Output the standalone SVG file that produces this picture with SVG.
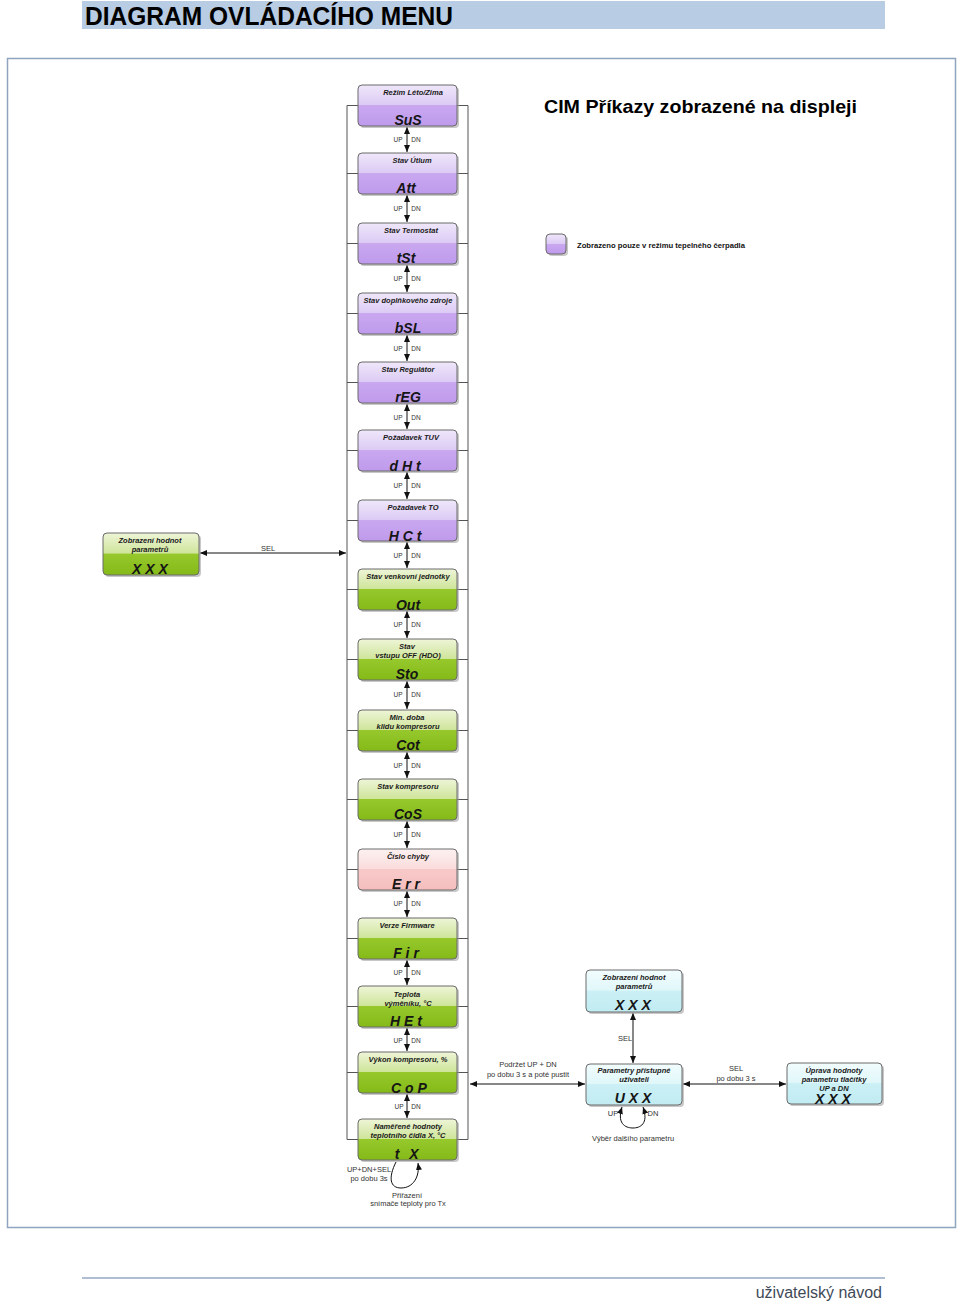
<svg xmlns="http://www.w3.org/2000/svg" width="960" height="1304" viewBox="0 0 960 1304">
<defs>
<linearGradient id="gPu" x1="0" y1="0" x2="0" y2="1">
<stop offset="0" stop-color="#efe7fa"/><stop offset="0.48" stop-color="#dccbf5"/><stop offset="0.5" stop-color="#c9a8f0"/><stop offset="1" stop-color="#bf9aec"/>
</linearGradient>
<linearGradient id="gGr" x1="0" y1="0" x2="0" y2="1">
<stop offset="0" stop-color="#eef5d8"/><stop offset="0.48" stop-color="#cfe59a"/><stop offset="0.5" stop-color="#96c82c"/><stop offset="1" stop-color="#84ba18"/>
</linearGradient>
<linearGradient id="gPk" x1="0" y1="0" x2="0" y2="1">
<stop offset="0" stop-color="#fdf1f1"/><stop offset="0.48" stop-color="#fadcdc"/><stop offset="0.5" stop-color="#f8c9c9"/><stop offset="1" stop-color="#f5bebe"/>
</linearGradient>
<linearGradient id="gCy" x1="0" y1="0" x2="0" y2="1">
<stop offset="0" stop-color="#f2fcfd"/><stop offset="0.48" stop-color="#e0f7fa"/><stop offset="0.5" stop-color="#cbf0f5"/><stop offset="1" stop-color="#c1ecf2"/>
</linearGradient>
<marker id="ah" viewBox="0 0 7 6" markerWidth="7" markerHeight="6" refX="7" refY="3" orient="auto-start-reverse" markerUnits="userSpaceOnUse">
<path d="M0,0 L7,3 L0,6 z" fill="#111"/>
</marker>
<style>
.sh{fill:#9a9a9a;opacity:0.55}
.box{stroke:#6b6b6b;stroke-width:1}
.pu{fill:url(#gPu)}
.gr{fill:url(#gGr)}
.pk{fill:url(#gPk)}
.cy{fill:url(#gCy)}
.lb{font-family:"Liberation Sans",Arial,sans-serif;font-size:7.5px;font-weight:bold;font-style:italic;fill:#1a1a1a;text-anchor:middle}
.big{font-family:"Liberation Sans",Arial,sans-serif;font-size:14px;font-weight:bold;font-style:italic;fill:#151515;text-anchor:middle}
.sm{font-family:"Liberation Sans",Arial,sans-serif;font-size:7.5px;fill:#333;text-anchor:middle}
.ud{font-family:"Liberation Sans",Arial,sans-serif;font-size:6.5px;fill:#333;text-anchor:middle}
.ln{stroke:#555;stroke-width:1;fill:none}
.ar{stroke:#111;stroke-width:1;fill:none;marker-start:url(#ah);marker-end:url(#ah)}
.ar1{stroke:#111;stroke-width:1;fill:none;marker-end:url(#ah)}
</style>
</defs>
<rect width="960" height="1304" fill="#fff"/>
<g id="header">
<rect x="82" y="1" width="803" height="28" fill="#b8cce4"/>
<text x="85" y="25" font-family="Liberation Sans,Arial,sans-serif" font-size="25" font-weight="bold" fill="#000" textLength="368" lengthAdjust="spacingAndGlyphs">DIAGRAM OVLÁDACÍHO MENU</text>
</g>
<rect id="frame" x="7.5" y="58.5" width="948" height="1169" fill="none" stroke="#8fa5bf" stroke-width="1.5"/>
<text id="title" x="544" y="113" font-family="Liberation Sans,Arial,sans-serif" font-size="19" font-weight="bold" fill="#000" textLength="313" lengthAdjust="spacingAndGlyphs">CIM Příkazy zobrazené na displeji</text>
<g id="legend">
<rect x="548" y="236" width="20" height="20" rx="4" class="sh"/>
<rect x="546" y="234" width="20" height="20" rx="4" class="box pu"/>
<text x="577" y="247.5" font-family="Liberation Sans,Arial,sans-serif" font-size="7.5" font-weight="bold" fill="#111" textLength="168" lengthAdjust="spacingAndGlyphs">Zobrazeno pouze v režimu tepelného čerpadla</text>
</g>

<g id="connectors">
<path class="ln" d="M347,105.5 V1139.5 M468,105.5 V1139.5"/>
<path class="ln" d="M347,105.5 H468 M347,173.5 H468 M347,243.5 H468 M347,313.5 H468 M347,382.5 H468 M347,450.5 H468 M347,520.5 H468 M347,589.5 H468 M347,659.5 H468 M347,730.5 H468 M347,799.5 H468 M347,869.5 H468 M347,938.5 H468 M347,1006.5 H468 M347,1072.5 H468 M347,1139.5 H468"/>
<line class="ar" x1="407" y1="127" x2="407" y2="152"/>
<line class="ar" x1="407" y1="195" x2="407" y2="222"/>
<line class="ar" x1="407" y1="265" x2="407" y2="292"/>
<line class="ar" x1="407" y1="335" x2="407" y2="361"/>
<line class="ar" x1="407" y1="404" x2="407" y2="429"/>
<line class="ar" x1="407" y1="472" x2="407" y2="499"/>
<line class="ar" x1="407" y1="542" x2="407" y2="568"/>
<line class="ar" x1="407" y1="611" x2="407" y2="638"/>
<line class="ar" x1="407" y1="681" x2="407" y2="709"/>
<line class="ar" x1="407" y1="752" x2="407" y2="778"/>
<line class="ar" x1="407" y1="821" x2="407" y2="848"/>
<line class="ar" x1="407" y1="891" x2="407" y2="917"/>
<line class="ar" x1="407" y1="960" x2="407" y2="985"/>
<line class="ar" x1="407" y1="1028" x2="407" y2="1051"/>
<line class="ar" x1="407" y1="1094" x2="407" y2="1118"/>
<g class="ud">
<text x="398" y="142">UP</text><text x="416" y="142">DN</text>
<text x="398" y="211">UP</text><text x="416" y="211">DN</text>
<text x="398" y="281">UP</text><text x="416" y="281">DN</text>
<text x="398" y="351">UP</text><text x="416" y="351">DN</text>
<text x="398" y="420">UP</text><text x="416" y="420">DN</text>
<text x="398" y="488">UP</text><text x="416" y="488">DN</text>
<text x="398" y="558">UP</text><text x="416" y="558">DN</text>
<text x="398" y="627">UP</text><text x="416" y="627">DN</text>
<text x="398" y="697">UP</text><text x="416" y="697">DN</text>
<text x="398" y="768">UP</text><text x="416" y="768">DN</text>
<text x="398" y="837">UP</text><text x="416" y="837">DN</text>
<text x="398" y="906">UP</text><text x="416" y="906">DN</text>
<text x="398" y="975">UP</text><text x="416" y="975">DN</text>
<text x="398" y="1043">UP</text><text x="416" y="1043">DN</text>
<text x="399" y="1109">UP</text><text x="416" y="1109">DN</text>
</g>
<line class="ar" x1="200" y1="553" x2="346" y2="553"/>
<text class="sm" x="268" y="550.5">SEL</text>
<path class="ar1" d="M396,1162 C388,1178 390,1188 401,1188 C413,1188 420,1177 418,1163"/>
<text class="sm" x="369" y="1171.5">UP+DN+SEL</text>
<text class="sm" x="369" y="1180.5">po dobu 3s</text>
<text class="sm" x="407" y="1197.5">Přiřazení</text>
<text class="sm" x="408" y="1206">snímače teploty pro Tx</text>
<line class="ar" x1="470" y1="1084" x2="585" y2="1084"/>
<text class="sm" x="528" y="1066.5">Podržet UP + DN</text>
<text class="sm" x="528" y="1076.5">po dobu 3 s a poté pustit</text>
<line class="ar" x1="633" y1="1013" x2="633" y2="1063"/>
<text class="sm" x="625" y="1041">SEL</text>
<line class="ar" x1="683" y1="1084" x2="786" y2="1084"/>
<text class="sm" x="736" y="1070.5">SEL</text>
<text class="sm" x="736" y="1080.5">po dobu 3 s</text>
<path class="ar" d="M622,1107 C616,1126 628,1128 633,1128 C640,1128 649,1124 643,1107"/>
<text class="sm" x="613" y="1115.5">UP</text>
<text class="sm" x="653" y="1115.5">DN</text>
<text class="sm" x="633" y="1140.5">Výběr dalšího parametru</text>
</g>

<g id="n-sus"><rect class="sh" x="360" y="87" width="99" height="41" rx="4"/><rect class="box pu" x="358" y="85" width="99" height="41" rx="4"/><text class="lb" x="413" y="94.5">Režim Léto/Zima</text><text class="big" x="408" y="125">SuS</text></g>
<g id="n-att"><rect class="sh" x="360" y="155" width="99" height="41" rx="4"/><rect class="box pu" x="358" y="153" width="99" height="41" rx="4"/><text class="lb" x="412" y="162.5">Stav Útlum</text><text class="big" x="406" y="193">Att</text></g>
<g id="n-tst"><rect class="sh" x="360" y="225" width="99" height="41" rx="4"/><rect class="box pu" x="358" y="223" width="99" height="41" rx="4"/><text class="lb" x="411" y="232.5">Stav Termostat</text><text class="big" x="406" y="263">tSt</text></g>
<g id="n-bsl"><rect class="sh" x="360" y="295" width="99" height="41" rx="4"/><rect class="box pu" x="358" y="293" width="99" height="41" rx="4"/><text class="lb" x="408" y="302.5">Stav doplňkového zdroje</text><text class="big" x="408" y="333">bSL</text></g>
<g id="n-reg"><rect class="sh" x="360" y="364" width="99" height="41" rx="4"/><rect class="box pu" x="358" y="362" width="99" height="41" rx="4"/><text class="lb" x="408" y="371.5">Stav Regulátor</text><text class="big" x="408" y="402">rEG</text></g>
<g id="n-dht"><rect class="sh" x="360" y="432" width="99" height="41" rx="4"/><rect class="box pu" x="358" y="430" width="99" height="41" rx="4"/><text class="lb" x="411" y="439.5">Požadavek TUV</text><text class="big" x="405" y="471">d H t</text></g>
<g id="n-hct"><rect class="sh" x="360" y="502" width="99" height="41" rx="4"/><rect class="box pu" x="358" y="500" width="99" height="41" rx="4"/><text class="lb" x="413" y="509.5">Požadavek TO</text><text class="big" x="405" y="541">H C t</text></g>
<g id="n-out"><rect class="sh" x="360" y="571" width="99" height="41" rx="4"/><rect class="box gr" x="358" y="569" width="99" height="41" rx="4"/><text class="lb" x="408" y="578.5">Stav venkovní jednotky</text><text class="big" x="408" y="610">Out</text></g>
<g id="n-sto"><rect class="sh" x="360" y="641" width="99" height="41" rx="4"/><rect class="box gr" x="358" y="639" width="99" height="41" rx="4"/><text class="lb" x="407" y="648.5">Stav</text><text class="lb" x="408" y="657.5">vstupu OFF (HDO)</text><text class="big" x="407" y="679">Sto</text></g>
<g id="n-cot"><rect class="sh" x="360" y="712" width="99" height="41" rx="4"/><rect class="box gr" x="358" y="710" width="99" height="41" rx="4"/><text class="lb" x="407" y="719.5">Min. doba</text><text class="lb" x="408" y="728.5">klidu kompresoru</text><text class="big" x="408" y="750">Cot</text></g>
<g id="n-cos"><rect class="sh" x="360" y="781" width="99" height="41" rx="4"/><rect class="box gr" x="358" y="779" width="99" height="41" rx="4"/><text class="lb" x="408" y="788.5">Stav kompresoru</text><text class="big" x="408" y="819">CoS</text></g>
<g id="n-err"><rect class="sh" x="360" y="851" width="99" height="41" rx="4"/><rect class="box pk" x="358" y="849" width="99" height="41" rx="4"/><text class="lb" x="408" y="858.5">Číslo chyby</text><text class="big" x="406" y="889">E r r</text></g>
<g id="n-fir"><rect class="sh" x="360" y="920" width="99" height="41" rx="4"/><rect class="box gr" x="358" y="918" width="99" height="41" rx="4"/><text class="lb" x="407" y="927.5">Verze Firmware</text><text class="big" x="406" y="958">F i r</text></g>
<g id="n-het"><rect class="sh" x="360" y="988" width="99" height="41" rx="4"/><rect class="box gr" x="358" y="986" width="99" height="41" rx="4"/><text class="lb" x="407" y="996.5">Teplota</text><text class="lb" x="408" y="1005.5">výměníku, °C</text><text class="big" x="406" y="1026">H E t</text></g>
<g id="n-cop"><rect class="sh" x="360" y="1054" width="99" height="41" rx="4"/><rect class="box gr" x="358" y="1052" width="99" height="41" rx="4"/><text class="lb" x="408" y="1061.5">Výkon kompresoru, %</text><text class="big" x="409" y="1093">C o P</text></g>
<g id="n-tx"><rect class="sh" x="360" y="1121" width="99" height="41" rx="4"/><rect class="box gr" x="358" y="1119" width="99" height="41" rx="4"/><text class="lb" x="408" y="1128.5">Naměřené hodnoty</text><text class="lb" x="408" y="1137.5">teplotního čidla X, °C</text><text class="big" y="1159"><tspan x="397">t</tspan><tspan x="414">X</tspan></text></g>

<g id="n-left-xxx"><rect class="sh" x="105" y="535" width="96" height="42" rx="4"/><rect class="box gr" x="103" y="533" width="96" height="42" rx="4"/><text class="lb" x="150" y="542.5">Zobrazení hodnot</text><text class="lb" x="150" y="551.5">parametrů</text><text class="big" x="150" y="574">X X X</text></g>
<g id="n-zobr"><rect class="sh" x="588" y="972" width="96" height="42" rx="4"/><rect class="box cy" x="586" y="970" width="96" height="42" rx="4"/><text class="lb" x="634" y="979.5">Zobrazení hodnot</text><text class="lb" x="634" y="988.5">parametrů</text><text class="big" x="633" y="1010">X X X</text></g>
<g id="n-uxx"><rect class="sh" x="588" y="1066" width="96" height="41" rx="4"/><rect class="box cy" x="586" y="1064" width="96" height="41" rx="4"/><text class="lb" x="634" y="1072.5">Parametry přístupné</text><text class="lb" x="634" y="1081.5">uživateli</text><text class="big" x="633" y="1103">U X X</text></g>
<g id="n-uprava"><rect class="sh" x="789" y="1065" width="95" height="41" rx="4"/><rect class="box cy" x="787" y="1063" width="95" height="41" rx="4"/><text class="lb" x="834" y="1072.5">Úprava hodnoty</text><text class="lb" x="834" y="1081.5">parametru tlačítky</text><text class="lb" x="834" y="1090.5">UP a DN</text><text class="big" x="833" y="1104">X X X</text></g>

<g id="footer">
<line x1="82" y1="1278" x2="885" y2="1278" stroke="#95a9c4" stroke-width="1.3"/>
<text x="882" y="1298" font-family="Liberation Sans,Arial,sans-serif" font-size="16" fill="#3f4a58" text-anchor="end">uživatelský návod</text>
</g>
</svg>
